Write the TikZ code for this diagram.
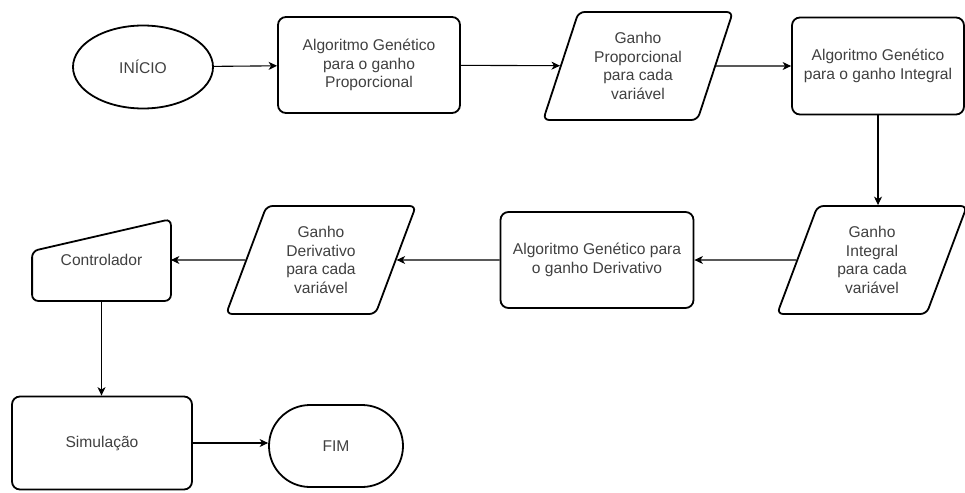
\documentclass[tikz,border=0pt]{standalone}
\usepackage{fontspec}
\setmainfont{Liberation Sans}
\usetikzlibrary{shapes.geometric,shapes.misc,arrows.meta}

\tikzset{
	base/.style={draw, line width=1.8pt, align=center, text=black!75,
		font=\fontsize{15.6}{18.5}\selectfont, inner sep=2pt},
	proc/.style={base, rectangle, rounded corners=8pt, minimum width=182pt, minimum height=96pt},
	dados/.style={base, trapezium, trapezium left angle=69, trapezium right angle=111,
		trapezium stretches=true, rounded corners=6pt, minimum width=190pt, minimum height=108pt},
	inicio/.style={base, ellipse, minimum width=140pt, minimum height=83pt},
	fim/.style={base, rounded rectangle, minimum width=138pt, minimum height=82pt},
	seta/.style={line width=1.1pt, -{Stealth[length=8.5pt,width=8pt,inset=2.5pt]}}
}

\begin{document}
\begin{tikzpicture}[x=1pt,y=-1pt]
\useasboundingbox (0,0) rectangle (965,492);

% linha de cima
\node[inicio] (ini) at (143,67) {IN\'ICIO};
\node[proc] (algp) at (369,65) {Algoritmo Gen\'etico\\para o ganho\\Proporcional};
\node[dados] (propvar) at (638,66) {Ganho\\Proporcional\\para cada\\vari\'avel};
\node[proc, minimum width=172pt, minimum height=97pt] (algi) at (878,66) {Algoritmo Gen\'etico\\para o ganho Integral};

% linha do meio
\node[dados] (intvar) at (872,260) {Ganho\\Integral\\para cada\\vari\'avel};
\node[proc, minimum width=193pt] (algd) at (597,260) {Algoritmo Gen\'etico para\\o ganho Derivativo};
\node[dados] (dervar) at (321,260) {Ganho\\Derivativo\\para cada\\vari\'avel};
\node[base, draw=none, minimum width=137pt, minimum height=80pt] (ctrl) at (101.5,260) {Controlador};
\draw[line width=1.8pt, rounded corners=6pt] (ctrl.south west) -- (ctrl.south east)
	-- (ctrl.north east) -- ([yshift=-32pt]ctrl.north west) -- cycle;

% linha de baixo
\node[proc, minimum width=180pt, minimum height=93pt] (sim) at (102,443) {Simula\c{c}\~ao};
\node[fim] (fim) at (336,446) {FIM};

\draw[seta] (ini) -- (algp);
\draw[seta] (algp) -- (propvar);
\draw[seta] (propvar) -- (algi);
\draw[seta] (algi.south) -- (algi.south |- intvar.north);
\draw[seta] (intvar) -- (algd);
\draw[seta] (algd) -- (dervar);
\draw[seta] (dervar) -- (ctrl);
\draw[seta] (ctrl.south) -- (ctrl.south |- sim.north);
\draw[seta] (sim.east) -- (sim.east -| fim.west);

\end{tikzpicture}
\end{document}
